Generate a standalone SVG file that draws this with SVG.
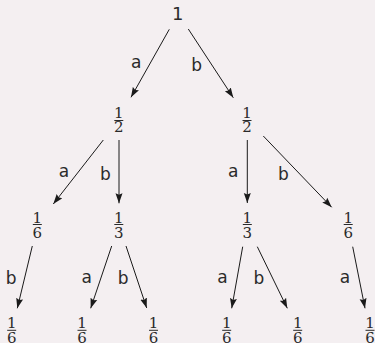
<svg xmlns="http://www.w3.org/2000/svg" width="375" height="343" viewBox="0 0 375 343">
<defs>
<marker id="ah" markerUnits="userSpaceOnUse" markerWidth="10" markerHeight="8" refX="10" refY="4" orient="auto">
<path d="M0,0.5 L10,4 L0,7.5 L1.5,4 z" fill="#1a1a1a"/>
</marker>
<style>
.lbl{font-family:"DejaVu Sans",Verdana,sans-serif;font-size:17px;fill:#2a2a2a;text-anchor:middle}
.root{font-family:"DejaVu Sans",Verdana,sans-serif;font-size:18px;fill:#2a2a2a;text-anchor:middle}
.fr{font-family:"DejaVu Serif","Liberation Serif",serif;font-size:15px;fill:#2a2a2a;text-anchor:middle}
.bar{stroke:#2a2a2a;stroke-width:1}
.edge{stroke:#1a1a1a;stroke-width:1;fill:none;marker-end:url(#ah)}
</style>
</defs>
<rect width="375" height="343" fill="#f4eff1"/>
<g id="connectors">
<line class="edge" x1="169.3" y1="29.3" x2="131" y2="97.3"/>
<line class="edge" x1="188.3" y1="29" x2="233.3" y2="97.7"/>
<line class="edge" x1="103.3" y1="140" x2="53.3" y2="204"/>
<line class="edge" x1="119" y1="140" x2="119" y2="203.3"/>
<line class="edge" x1="247.3" y1="140" x2="247.3" y2="203"/>
<line class="edge" x1="263.3" y1="136" x2="331.7" y2="207.3"/>
<line class="edge" x1="32.3" y1="246" x2="17.3" y2="308.3"/>
<line class="edge" x1="111.7" y1="246" x2="90.7" y2="308.3"/>
<line class="edge" x1="126" y1="246" x2="146.7" y2="308"/>
<line class="edge" x1="242.7" y1="246.7" x2="231.7" y2="308.3"/>
<line class="edge" x1="257.3" y1="246.7" x2="287.3" y2="308.3"/>
<line class="edge" x1="352.7" y1="246.7" x2="365" y2="308.3"/>
<text class="lbl" x="136.3" y="68.3">a</text>
<text class="lbl" x="196.7" y="70.7">b</text>
<text class="lbl" x="64" y="177.3">a</text>
<text class="lbl" x="105.3" y="180">b</text>
<text class="lbl" x="233.3" y="177.3">a</text>
<text class="lbl" x="283.3" y="180">b</text>
<text class="lbl" x="11.2" y="284.3">b</text>
<text class="lbl" x="86.8" y="283.3">a</text>
<text class="lbl" x="123.2" y="284.3">b</text>
<text class="lbl" x="222.5" y="283.3">a</text>
<text class="lbl" x="258.8" y="284.3">b</text>
<text class="lbl" x="345" y="283.3">a</text>
</g>
<g id="n0"><text class="root" x="177.7" y="20">1</text></g>
<g id="n1"><text class="fr" x="118.8" y="118.3">1</text><line class="bar" x1="114.3" y1="120.5" x2="123.3" y2="120.5"/><text class="fr" x="118.8" y="132.3">2</text></g>
<g id="n2"><text class="fr" x="247" y="118.3">1</text><line class="bar" x1="242.5" y1="120.5" x2="251.5" y2="120.5"/><text class="fr" x="247" y="132.3">2</text></g>
<g id="n3"><text class="fr" x="37.3" y="222.5">1</text><line class="bar" x1="32.8" y1="224.5" x2="41.8" y2="224.5"/><text class="fr" x="37.3" y="237.5">6</text></g>
<g id="n4"><text class="fr" x="118.8" y="222.5">1</text><line class="bar" x1="114.3" y1="224.5" x2="123.3" y2="224.5"/><text class="fr" x="118.8" y="237.5">3</text></g>
<g id="n5"><text class="fr" x="247.3" y="222.5">1</text><line class="bar" x1="242.8" y1="224.5" x2="251.8" y2="224.5"/><text class="fr" x="247.3" y="237.5">3</text></g>
<g id="n6"><text class="fr" x="348.2" y="222.5">1</text><line class="bar" x1="343.7" y1="224.5" x2="352.7" y2="224.5"/><text class="fr" x="348.2" y="237.5">6</text></g>
<g id="n7"><text class="fr" x="11.7" y="328.3">1</text><line class="bar" x1="7.2" y1="330.3" x2="16.2" y2="330.3"/><text class="fr" x="11.7" y="342.8">6</text></g>
<g id="n8"><text class="fr" x="82" y="328.3">1</text><line class="bar" x1="77.5" y1="330.3" x2="86.5" y2="330.3"/><text class="fr" x="82" y="342.8">6</text></g>
<g id="n9"><text class="fr" x="153.5" y="328.3">1</text><line class="bar" x1="149" y1="330.3" x2="158" y2="330.3"/><text class="fr" x="153.5" y="342.8">6</text></g>
<g id="n10"><text class="fr" x="226.7" y="328.3">1</text><line class="bar" x1="222.2" y1="330.3" x2="231.2" y2="330.3"/><text class="fr" x="226.7" y="342.8">6</text></g>
<g id="n11"><text class="fr" x="297.7" y="328.3">1</text><line class="bar" x1="293.2" y1="330.3" x2="302.2" y2="330.3"/><text class="fr" x="297.7" y="342.8">6</text></g>
<g id="n12"><text class="fr" x="370" y="328.3">1</text><line class="bar" x1="365.5" y1="330.3" x2="374.5" y2="330.3"/><text class="fr" x="370" y="342.8">6</text></g>
</svg>
